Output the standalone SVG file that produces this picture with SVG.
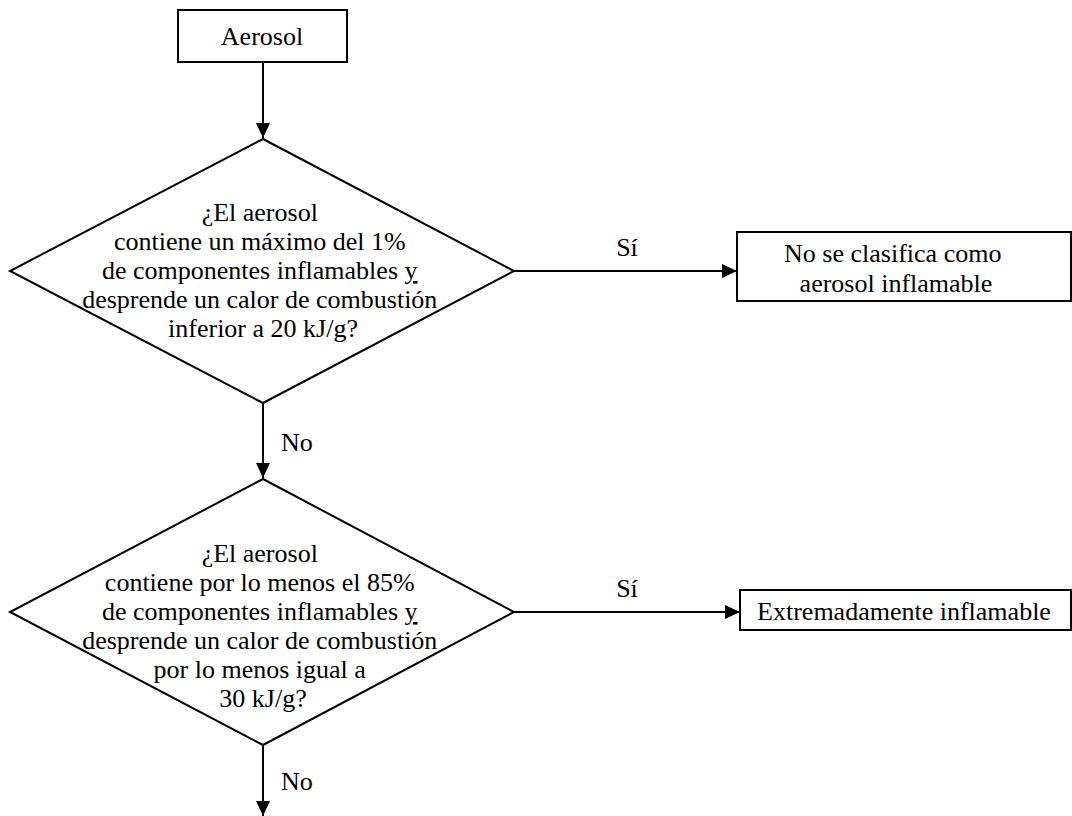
<svg xmlns="http://www.w3.org/2000/svg" width="1072" height="816" viewBox="0 0 1072 816">
<style>
  .shape { fill: #ffffff; stroke: #000000; stroke-width: 2; }
  .line { fill: none; stroke: #000000; stroke-width: 2; }
  text { font-family: "Liberation Serif", "Times New Roman", serif; font-size: 26px; fill: #000000; }
  .c { text-anchor: middle; }
  .u { text-decoration: underline; }
</style>
<defs>
  <marker id="arrow" markerUnits="userSpaceOnUse" markerWidth="16" markerHeight="14" refX="15" refY="7" orient="auto">
    <path d="M0,0 L15,7 L0,14 Z" fill="#000000"/>
  </marker>
</defs>
<rect x="0" y="0" width="1072" height="816" fill="#ffffff"/>
<g id="connectors">
  <line class="line" x1="263" y1="62" x2="263" y2="138" marker-end="url(#arrow)"/>
  <line class="line" x1="514" y1="271" x2="737" y2="271" marker-end="url(#arrow)"/>
  <text x="627" y="256" class="c">Sí</text>
  <line class="line" x1="263" y1="403" x2="263" y2="478" marker-end="url(#arrow)"/>
  <text x="281" y="451">No</text>
  <line class="line" x1="514" y1="612" x2="740" y2="612" marker-end="url(#arrow)"/>
  <text x="627" y="597" class="c">Sí</text>
  <line class="line" x1="263" y1="745" x2="263" y2="816" marker-end="url(#arrow)"/>
  <text x="281" y="790">No</text>
</g>
<g id="aerosol">
  <rect class="shape" x="178" y="10" width="169" height="52"/>
  <text x="262" y="45" class="c">Aerosol</text>
</g>
<g id="decision1">
  <polygon class="shape" points="263,139 514,271 263,403 10,271"/>
  <text class="c">
    <tspan x="263" y="221">¿El aerosol</tspan>
    <tspan x="263" y="250">contiene un máximo del 1%</tspan>
    <tspan x="263" y="279">de componentes inflamables <tspan class="u">y</tspan></tspan>
    <tspan x="263" y="308">desprende un calor de combustión</tspan>
    <tspan x="263" y="337">inferior a 20 kJ/g?</tspan>
  </text>
</g>
<g id="no-clasifica">
  <rect class="shape" x="737" y="232" width="334" height="69"/>
  <text class="c">
    <tspan x="896" y="262">No se clasifica como</tspan>
    <tspan x="896" y="292">aerosol inflamable</tspan>
  </text>
</g>
<g id="decision2">
  <polygon class="shape" points="263,479 514,612 263,745 10,612"/>
  <text class="c">
    <tspan x="263" y="562">¿El aerosol</tspan>
    <tspan x="263" y="591">contiene por lo menos el 85%</tspan>
    <tspan x="263" y="620">de componentes inflamables <tspan class="u">y</tspan></tspan>
    <tspan x="263" y="649">desprende un calor de combustión</tspan>
    <tspan x="263" y="678">por lo menos igual a</tspan>
    <tspan x="263" y="707">30 kJ/g?</tspan>
  </text>
</g>
<g id="extremadamente">
  <rect class="shape" x="740" y="590" width="331" height="40"/>
  <text x="904" y="620" class="c">Extremadamente inflamable</text>
</g>
</svg>
